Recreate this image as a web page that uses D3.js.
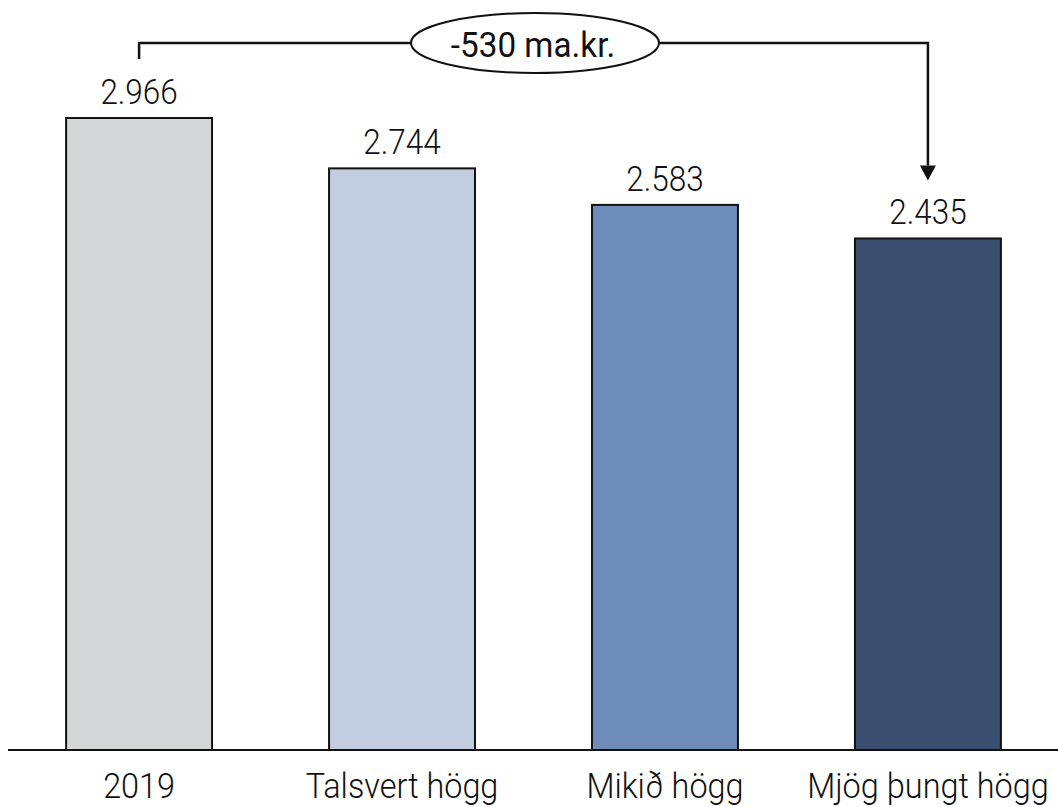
<!DOCTYPE html>
<html>
<head>
<meta charset="utf-8">
<script src="https://cdn.jsdelivr.net/npm/d3@7"></script>
<style>
  html, body { margin: 0; padding: 0; background: #fff; }
  svg { display: block; }
  text { font-family: Roboto, "Noto Sans", sans-serif; fill: #111; }
</style>
</head>
<body>
<svg id="chart" width="1058" height="807"></svg>
<script>
// Útgjöld (þús. ma.kr.) eftir sviðsmyndum
const categories = ["2019", "Talsvert högg", "Mikið högg", "Mjög þungt högg"];
const values = [2.966, 2.744, 2.583, 2.435];
const valueLabels = ["2.966", "2.744", "2.583", "2.435"];
const barColors = ["#d5d6d8", "#c2cde0", "#6e8db8", "#3a4f70"];
const changeLabel = "-530 ma.kr.";

const width = 1058, height = 807;
const narrow = "scale(0.9,1)";   // slightly condensed lettering
const svg = d3.select("#chart");

const x = d3.scaleBand()
  .domain(categories)
  .range([3, 1064])
  .paddingInner(0.445)
  .paddingOuter(0.24);

const y = d3.scaleLinear()
  .domain([0.18, 3.0])
  .range([750, 110.3]);

const baseY = y(0.18);

// bars
svg.append("g")
  .selectAll("rect")
  .data(values)
  .join("rect")
  .attr("x", (d, i) => x(categories[i]))
  .attr("y", d => y(d))
  .attr("width", x.bandwidth())
  .attr("height", d => baseY - y(d))
  .attr("fill", (d, i) => barColors[i])
  .attr("stroke", "#111")
  .attr("stroke-width", 2);

// value labels
svg.append("g")
  .selectAll("g")
  .data(values)
  .join("g")
  .attr("transform", (d, i) => `translate(${x(categories[i]) + x.bandwidth() / 2},${y(d) - 14})`)
  .append("text")
  .attr("transform", narrow)
  .attr("text-anchor", "middle")
  .attr("font-size", 35)
  .attr("font-weight", 300)
  .text((d, i) => valueLabels[i]);

// category axis
const xAxis = svg.append("g")
  .attr("transform", `translate(0,${baseY})`)
  .call(d3.axisBottom(x).tickSize(0).tickPadding(0));
xAxis.select(".domain").remove();
xAxis.selectAll("text")
  .attr("y", 48)
  .attr("dy", 0)
  .attr("transform", narrow)
  .attr("font-size", 36)
  .attr("font-weight", 300)
  .style("font-family", "Roboto, 'Noto Sans', sans-serif")
  .attr("fill", "#111");

svg.append("line")
  .attr("x1", 8).attr("x2", width)
  .attr("y1", baseY).attr("y2", baseY)
  .attr("stroke", "#111")
  .attr("stroke-width", 2);

// change bracket from first to last scenario
const x0 = x(categories[0]) + x.bandwidth() / 2;
const x1 = x(categories[categories.length - 1]) + x.bandwidth() / 2;
const bracketY = 43;
const startY = y(values[0]) - 59;
const tipY = y(values[values.length - 1]) - 58;
const headH = 15, headW = 8;

svg.append("path")
  .attr("d", `M${x0},${startY} V${bracketY} H${x1} V${tipY - headH}`)
  .attr("fill", "none")
  .attr("stroke", "#111")
  .attr("stroke-width", 2.5);

svg.append("path")
  .attr("d", `M${x1 - headW},${tipY - headH} L${x1 + headW},${tipY - headH} L${x1},${tipY} Z`)
  .attr("fill", "#111");

const ex = 535;
svg.append("ellipse")
  .attr("cx", ex).attr("cy", bracketY)
  .attr("rx", 124).attr("ry", 30)
  .attr("fill", "#fff")
  .attr("stroke", "#111")
  .attr("stroke-width", 2);

svg.append("g")
  .attr("transform", `translate(${ex - 2},${bracketY + 14})`)
  .append("text")
  .attr("transform", "scale(0.95,1)")
  .attr("text-anchor", "middle")
  .attr("font-size", 35)
  .attr("font-weight", 400)
  .text(changeLabel);
</script>
</body>
</html>
